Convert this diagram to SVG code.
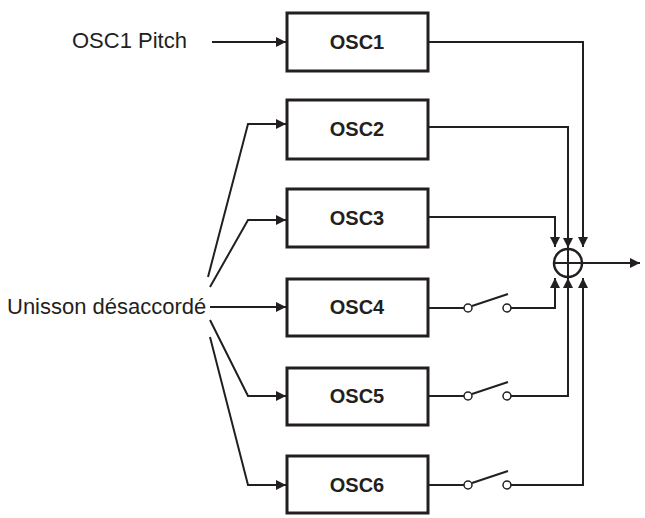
<svg xmlns="http://www.w3.org/2000/svg" width="645" height="518" viewBox="0 0 645 518">
<defs><marker id="a" viewBox="0 0 10 10" refX="10" refY="5" markerWidth="10" markerHeight="10" markerUnits="userSpaceOnUse" orient="auto"><path d="M0,0L10,5L0,10z" fill="#231f20"/></marker></defs>
<style>
.b{fill:#fff;stroke:#231f20;stroke-width:3}
.l{fill:none;stroke:#231f20;stroke-width:2}
.t{font-family:"Liberation Sans",Arial,sans-serif;font-size:20px;font-weight:bold;fill:#231f20;text-anchor:middle}
.n{font-family:"Liberation Sans",Arial,sans-serif;font-size:22px;fill:#231f20}
.s{fill:#fff;stroke:#231f20;stroke-width:1.5}
</style>
<rect width="645" height="518" fill="#fff"/>
<g id="osc1"><rect class="b" x="287" y="13" width="141" height="58"/><text class="t" x="357" y="49">OSC1</text></g>
<g id="osc2"><rect class="b" x="287" y="100" width="141" height="59"/><text class="t" x="357" y="136">OSC2</text></g>
<g id="osc3"><rect class="b" x="287" y="189" width="141" height="58"/><text class="t" x="357" y="225">OSC3</text></g>
<g id="osc4"><rect class="b" x="287" y="279" width="141" height="57"/><text class="t" x="357" y="314">OSC4</text></g>
<g id="osc5"><rect class="b" x="287" y="368" width="141" height="57"/><text class="t" x="357" y="403">OSC5</text></g>
<g id="osc6"><rect class="b" x="287" y="456" width="141" height="57"/><text class="t" x="357" y="492">OSC6</text></g>
<g id="labels"><text class="n" x="72" y="48">OSC1 Pitch</text><text class="n" x="7" y="314">Unisson désaccordé</text></g>
<g id="sum"><circle cx="568" cy="263" r="14" fill="#fff" stroke="#231f20" stroke-width="2.5"/><path class="l" d="M554,263H582M568,249V277" stroke-width="1"/></g>
<g id="connectors">
<path class="l" marker-end="url(#a)" d="M212,42H286"/>
<path class="l" marker-end="url(#a)" d="M210,307H286"/>
<path class="l" marker-end="url(#a)" d="M208,277L248,124H286"/>
<path class="l" marker-end="url(#a)" d="M210,287L248,220H286"/>
<path class="l" marker-end="url(#a)" d="M210,320L248,396H286"/>
<path class="l" marker-end="url(#a)" d="M210,337L248,485H286"/>
<path class="l" marker-end="url(#a)" d="M428,42H583V247"/>
<path class="l" marker-end="url(#a)" d="M428,127H568V248"/>
<path class="l" marker-end="url(#a)" d="M428,217H555V247"/>
<path class="l" d="M428,308H464M472,306L508,294"/>
<path class="l" marker-end="url(#a)" d="M511,308H555V278"/>
<path class="l" d="M428,396H464M472,394L508,382"/>
<path class="l" marker-end="url(#a)" d="M511,396H568V278"/>
<path class="l" d="M428,485H464M472,483L508,471"/>
<path class="l" marker-end="url(#a)" d="M511,485H583V278"/>
<path class="l" marker-end="url(#a)" d="M582,263H640"/>
<circle class="s" cx="468" cy="308" r="4"/><circle class="s" cx="507" cy="308" r="4"/>
<circle class="s" cx="468" cy="396" r="4"/><circle class="s" cx="507" cy="396" r="4"/>
<circle class="s" cx="468" cy="485" r="4"/><circle class="s" cx="507" cy="485" r="4"/>
</g>
</svg>
